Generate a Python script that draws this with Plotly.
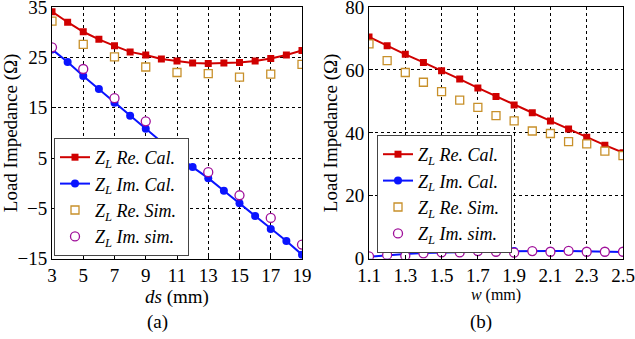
import plotly.graph_objects as go

# ---------- data: panel (a) ----------
ds_cal = [3, 4, 5, 6, 7, 8, 9, 10, 11, 12, 13, 14, 15, 16, 17, 18, 19]
a_re_cal = [34.1, 32.0, 30.1, 28.6, 27.3, 26.1, 25.5, 24.7, 24.3, 23.9, 23.8, 23.9, 24.0, 24.3, 24.8, 25.5, 26.4]
a_im_cal = [26.6, 24.1, 21.3, 18.7, 16.0, 13.4, 10.8, 8.2, 5.6, 3.2, 1.0, -1.5, -4.0, -6.5, -9.1, -11.5, -14.2]
ds_sim = [3, 5, 7, 9, 11, 13, 15, 17, 19]
a_re_sim = [32.2, 27.6, 25.1, 23.1, 22.0, 21.8, 21.1, 21.7, 23.6]
a_im_sim = [27.0, 22.7, 16.9, 12.3, 7.2, 2.2, -2.4, -6.9, -12.2]

# ---------- data: panel (b) ----------
w_vals = [1.1, 1.2, 1.3, 1.4, 1.5, 1.6, 1.7, 1.8, 1.9, 2.0, 2.1, 2.2, 2.3, 2.4, 2.5]
b_re_cal = [70.5, 67.7, 65.0, 62.4, 59.8, 57.1, 54.3, 51.6, 48.9, 46.4, 43.8, 41.2, 38.6, 36.1, 33.7]
b_im_cal = [0.6, 1.1, 1.5, 1.8, 2.0, 2.1, 2.2, 2.3, 2.4, 2.4, 2.4, 2.4, 2.3, 2.2, 2.1]
b_re_sim = [68.3, 63.0, 59.2, 56.1, 53.1, 50.4, 48.1, 45.5, 43.8, 40.6, 39.8, 37.2, 36.5, 34.2, 32.8]
b_im_sim = [0.7, 1.2, 0.9, 1.7, 2.0, 2.0, 2.4, 2.2, 1.9, 2.4, 2.2, 2.5, 2.2, 2.2, 2.2]

a_xticks = [3, 5, 7, 9, 11, 13, 15, 17, 19]
a_yticks = [-15, -5, 5, 15, 25, 35]
b_xticks = [1.1, 1.3, 1.5, 1.7, 1.9, 2.1, 2.3, 2.5]
b_yticks = [0, 20, 40, 60, 80]

PAD = '<span style="font-size:25px"> </span>'
names = ["<i>Z<sub>L</sub> Re. Cal.</i>" + PAD, "<i>Z<sub>L</sub> Im. Cal.</i>" + PAD,
         "<i>Z<sub>L</sub> Re. Sim.</i>" + PAD, "<i>Z<sub>L</sub> Im. sim.</i>" + PAD]

RED = "#d00000"
BLUE = "#0a14ff"
TAN = "#c8902a"
PURPLE = "#a0109a"
FONT = "Liberation Serif, Times New Roman, serif"

fig = go.Figure()

def add_panel(x_cal, re_cal, im_cal, x_sim, re_sim, im_sim, xa, ya, leg):
    fig.add_trace(go.Scatter(x=x_cal, y=re_cal, mode="lines+markers", name=names[0],
                             line=dict(color=RED, width=2),
                             marker=dict(symbol="square", size=7, color=RED),
                             xaxis=xa, yaxis=ya, legend=leg))
    fig.add_trace(go.Scatter(x=x_cal, y=im_cal, mode="lines+markers", name=names[1],
                             line=dict(color=BLUE, width=2),
                             marker=dict(symbol="circle", size=8, color=BLUE),
                             xaxis=xa, yaxis=ya, legend=leg))
    fig.add_trace(go.Scatter(x=x_sim, y=re_sim, mode="markers", name=names[2],
                             marker=dict(symbol="square", size=8, color="white",
                                         line=dict(width=1.3, color=TAN)),
                             xaxis=xa, yaxis=ya, legend=leg))
    fig.add_trace(go.Scatter(x=x_sim, y=im_sim, mode="markers", name=names[3],
                             marker=dict(symbol="circle", size=9, color="white",
                                         line=dict(width=1.3, color=PURPLE)),
                             xaxis=xa, yaxis=ya, legend=leg))

add_panel(ds_cal, a_re_cal, a_im_cal, ds_sim, a_re_sim, a_im_sim, "x", "y", "legend")
add_panel(w_vals, b_re_cal, b_im_cal, w_vals, b_re_sim, b_im_sim, "x2", "y2", "legend2")

axis_common = dict(showline=True, linecolor="black", linewidth=1, mirror=True,
                   ticks="inside", ticklen=4, tickcolor="black", automargin=False,
                   showgrid=True, gridcolor="black", gridwidth=0.8, griddash="3px,3px",
                   zeroline=False, ticklabeloverflow="allow",
                   tickfont=dict(family=FONT, size=19, color="black"))

ydom = [0.237, 0.979]
fig.update_layout(
    template="none",
    width=635, height=339,
    margin=dict(l=0, r=0, t=0, b=0, autoexpand=False),
    paper_bgcolor="white", plot_bgcolor="white",
    font=dict(family=FONT, color="black"),
    xaxis=dict(domain=[52/635, 302/635], range=[3, 19], tickvals=a_xticks,
               title=dict(text="<i>ds</i> (mm)", font=dict(family=FONT, size=19), standoff=0),
               anchor="y", **axis_common),
    yaxis=dict(domain=ydom, range=[-15, 35], tickvals=a_yticks,
               title=dict(text="Load Impedance (Ω)", font=dict(family=FONT, size=19), standoff=2),
               anchor="x", **axis_common),
    xaxis2=dict(domain=[369/635, 623/635], range=[1.1, 2.5], tickvals=b_xticks,
                title=dict(text="<i>w</i> (mm)", font=dict(family=FONT, size=16), standoff=0),
                anchor="y2", **axis_common),
    yaxis2=dict(domain=ydom, range=[0, 80], tickvals=b_yticks,
                title=dict(text="Load Impedance (Ω)", font=dict(family=FONT, size=19), standoff=2),
                anchor="x2", **axis_common),
    legend=dict(x=54/635, y=1-138/339, xanchor="left", yanchor="top",
                bgcolor="white", bordercolor="#444", borderwidth=1,
                font=dict(family=FONT, size=18, color="black"),
                tracegroupgap=0, itemwidth=30),
    legend2=dict(x=377/635, y=1-135/339, xanchor="left", yanchor="top",
                 bgcolor="white", bordercolor="#444", borderwidth=1,
                 font=dict(family=FONT, size=18, color="black"),
                 tracegroupgap=0, itemwidth=30),
    annotations=[
        dict(text="(a)", x=157/635, y=1-322/339, xref="paper", yref="paper",
             xanchor="center", yanchor="middle",
             showarrow=False, font=dict(family=FONT, size=19, color="black")),
        dict(text="(b)", x=481/635, y=1-322/339, xref="paper", yref="paper",
             xanchor="center", yanchor="middle",
             showarrow=False, font=dict(family=FONT, size=19, color="black")),
    ],
)

fig.write_html("out.html")
